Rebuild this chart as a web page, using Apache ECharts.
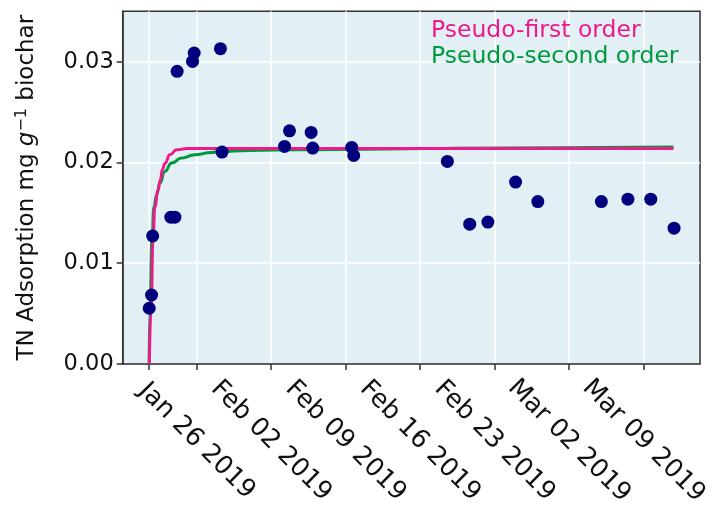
<!DOCTYPE html>
<html>
<head>
<meta charset="utf-8">
<script src="https://cdn.jsdelivr.net/npm/echarts@6/dist/echarts.min.js"></script>
<style>
html,body{margin:0;padding:0;background:#fff;}
#chart{width:712px;height:511px;}
</style>
</head>
<body>
<div id="chart"></div>
<script>
// Observed TN adsorption
const obsTimes = [
  '2019-01-21 13:25','2019-01-21 18:45','2019-01-21 21:10','2019-01-23 14:10','2019-01-23 23:15',
  '2019-01-24 04:20','2019-01-25 15:05','2019-01-25 18:45','2019-01-28 06:00','2019-01-28 09:35',
  '2019-02-03 06:30','2019-02-03 17:45','2019-02-05 18:30','2019-02-05 22:05','2019-02-09 13:55',
  '2019-02-09 18:30','2019-02-18 13:40','2019-02-20 16:05','2019-02-22 09:05','2019-02-24 23:30',
  '2019-02-27 01:40','2019-03-05 01:00','2019-03-07 12:45','2019-03-09 16:20','2019-03-11 20:50'
];
const obsValues = [
  0.00553,0.00685,0.01271,0.01457,0.01457,
  0.02904,0.03003,0.03086,0.03129,0.02103,
  0.02159,0.02314,0.02298,0.02143,0.02149,
  0.02069,0.02010,0.01388,0.01408,0.01805,
  0.01612,0.01612,0.01636,0.01636,0.01348
];
// Pseudo-first order curve
const pfoTimes = [
  '2019-01-21 13:30','2019-01-21 17:56','2019-01-21 21:45','2019-01-22 02:14','2019-01-22 08:59',
  '2019-01-22 14:37','2019-01-22 19:06','2019-01-23 00:43','2019-01-23 11:58','2019-01-24 03:01',
  '2019-01-25 04:26','2019-03-11 19:26'
];
const pfoValues = [
  0, 0.0057, 0.0123, 0.0156, 0.0172,
  0.0183, 0.0193, 0.0199, 0.02076, 0.02126,
  0.02138, 0.02138
];
// Pseudo-second order curve
const psoTimes = [
  '2019-01-21 13:15','2019-01-21 15:00','2019-01-21 19:29','2019-01-22 00:00','2019-01-22 06:04',
  '2019-01-22 13:29','2019-01-23 00:43','2019-01-23 15:47','2019-01-24 14:17','2019-01-25 20:11',
  '2019-01-27 09:43','2019-01-28 04:23','2019-01-30 23:50','2019-02-04 16:16','2019-02-10 22:15',
  '2019-02-18 17:31','2019-03-01 00:58','2019-03-11 19:26'
];
const psoValues = [
  0, 0.0057, 0.0123, 0.0156, 0.0168,
  0.01795, 0.0191, 0.01994, 0.02043, 0.02076,
  0.02099, 0.02109, 0.02119, 0.02126, 0.02131,
  0.0214, 0.02146, 0.02153
];
const xTickDates = ['2019-01-26','2019-02-02','2019-02-09','2019-02-16','2019-02-23','2019-03-02','2019-03-09'];
const xStartTick = '2019-01-21 13:25';
const xRange = ['2019-01-19 01:36','2019-03-14 07:26'];
const yTicks = [0, 0.01, 0.02, 0.03];
const seriesNames = ['Pseudo-first order','Pseudo-second order'];

function toTime(s){
  const parts = s.split(' ');
  const ymd = parts[0].split('-').map(Number);
  const hm = (parts[1]||'00:00').split(':').map(Number);
  return new Date(ymd[0], ymd[1]-1, ymd[2], hm[0], hm[1]).getTime();
}
const MONTHS = ['Jan','Feb','Mar','Apr','May','Jun','Jul','Aug','Sep','Oct','Nov','Dec'];
function fmtDate(v){
  const d = new Date(v);
  return MONTHS[d.getMonth()] + ' ' + String(d.getDate()).padStart(2,'0') + ' ' + d.getFullYear();
}

const FONT = 'DejaVu Sans';
const PINK = '#ec1a8a';
const GREEN = '#009a3e';

const chart = echarts.init(document.getElementById('chart'), null, {renderer:'canvas'});
const tickVals = [toTime(xStartTick)].concat(xTickDates.map(toTime));
const labelVals = xTickDates.map(toTime);

chart.setOption({
  animation:false,
  backgroundColor:'#ffffff',
  textStyle:{fontFamily:FONT},
  grid:{left:122.7, top:11.3, right:10.3, bottom:147, show:true, backgroundColor:'#e2eff4', borderColor:'#333333', borderWidth:1.5, containLabel:false},
  legend:{
    orient:'vertical', left:426, top:19, padding:0, itemGap:1.5, itemWidth:0, itemHeight:10,
    icon:'none', selectedMode:false,
    textStyle:{fontFamily:FONT, fontSize:23.5},
    data:[
      {name:seriesNames[0], textStyle:{color:PINK}},
      {name:seriesNames[1], textStyle:{color:GREEN}}
    ]
  },
  xAxis:{
    type:'value',
    min:toTime(xRange[0]), max:toTime(xRange[1]),
    axisLine:{show:true, onZero:false, lineStyle:{color:'#333333', width:1.5}},
    axisTick:{show:true, length:6, lineStyle:{color:'#333333', width:1.5}, customValues:tickVals},
    splitLine:{show:true, lineStyle:{color:'#ffffff', width:1.5}},
    axisLabel:{
      customValues:labelVals, rotate:-45, align:'center', verticalAlign:'middle', margin:77,
      fontFamily:FONT, fontSize:25.5, color:'#111111', hideOverlap:false,
      formatter:function(v){return fmtDate(v);}
    }
  },
  yAxis:{
    type:'value', min:0, max:0.035, interval:0.01,
    axisLine:{show:true, lineStyle:{color:'#333333', width:1.5}},
    axisTick:{show:true, length:6, lineStyle:{color:'#333333', width:1.5}, customValues:yTicks},
    splitLine:{show:true, lineStyle:{color:'#ffffff', width:1.5}},
    axisLabel:{customValues:yTicks, fontFamily:FONT, fontSize:22.5, color:'#111111', margin:9,
      formatter:function(v){return v.toFixed(2);}},
    name:'{n|TN Adsorption mg }{i|g}{s|\u22121}{n| biochar}',
    nameLocation:'middle', nameRotate:90, nameGap:82,
    nameTextStyle:{
      rich:{
        n:{fontFamily:FONT, fontSize:23, color:'#111111', lineHeight:27},
        i:{fontFamily:FONT, fontSize:23, fontStyle:'italic', color:'#111111', lineHeight:27},
        s:{fontFamily:FONT, fontSize:16, color:'#111111', lineHeight:14, verticalAlign:'top'}
      }
    }
  },
  series:[
    {
      name:seriesNames[1], type:'line', data:psoTimes.map((t,i)=>[toTime(t), psoValues[i]]),
      showSymbol:false, symbol:'none', smooth:0.5, smoothMonotone:'x',
      lineStyle:{color:GREEN, width:3}, itemStyle:{color:GREEN}, z:3
    },
    {
      name:seriesNames[0], type:'line', data:pfoTimes.map((t,i)=>[toTime(t), pfoValues[i]]),
      showSymbol:false, symbol:'none', smooth:0.5, smoothMonotone:'x',
      lineStyle:{color:PINK, width:3}, itemStyle:{color:PINK}, z:4
    },
    {
      name:'Observed', type:'scatter', data:obsTimes.map((t,i)=>[toTime(t), obsValues[i]]),
      symbol:'circle', symbolSize:13, itemStyle:{color:'#00007f', opacity:1}, z:5
    }
  ]
});
</script>
</body>
</html>
